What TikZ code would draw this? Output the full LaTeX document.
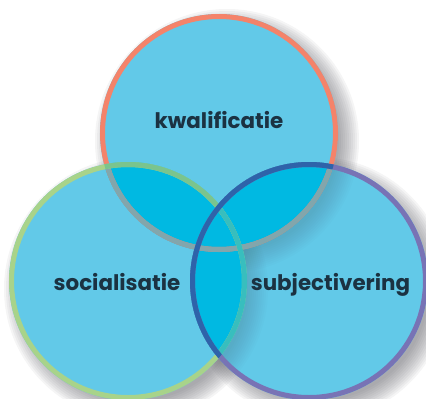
\documentclass[tikz,border=0pt]{standalone}
\usepackage{fontspec}
\setmainfont{Poppins}
\usetikzlibrary{positioning}

\definecolor{vulblauw}{HTML}{62C9E8}
\definecolor{overlapblauw}{HTML}{00B9E2}
\definecolor{oranje}{HTML}{F4836A}
\definecolor{groen}{HTML}{A8D38A}
\definecolor{paars}{HTML}{7873B5}
\definecolor{grijsring}{HTML}{82A6AC}
\definecolor{groenring}{HTML}{7AC48E}
\definecolor{tealring}{HTML}{38BEBE}
\definecolor{blauwring}{HTML}{2E63AA}
\definecolor{tekst}{HTML}{1B3242}
\definecolor{schaduw}{HTML}{505058}

\tikzset{
  ring/.style={line width=5pt},
  woord/.style={text=tekst,font=\bfseries\fontsize{21.4}{25}\selectfont,anchor=base,inner sep=0pt}
}

\begin{document}
\begin{tikzpicture}[x=1pt,y=-1pt]
            \useasboundingbox (0,0) rectangle (426,399);
            \coordinate (K) at (219,133);
            \coordinate (S) at (128,281);
            \coordinate (J) at (309,281);

            \foreach \c in {K,S,J}
              \foreach \k in {0,...,10}
                \fill[schaduw,opacity=0.06] ([shift={(8,8)}]\c) circle[radius=112pt+2*\k pt];

            \fill[vulblauw] (K) circle[radius=119pt] (S) circle[radius=119pt] (J) circle[radius=119pt];

            \begin{scope}
              \clip (J) circle[radius=119pt];
              \foreach \c in {K,S}
                \foreach \k in {0,...,10}
                  \fill[schaduw,opacity=0.018] ([shift={(8,8)}]\c) circle[radius=112pt+2*\k pt];
            \end{scope}

            \begin{scope}
              \clip (K) circle[radius=119pt];
              \fill[overlapblauw] (S) circle[radius=119pt] (J) circle[radius=119pt];
            \end{scope}
            \begin{scope}
              \clip (S) circle[radius=119pt];
              \fill[overlapblauw] (J) circle[radius=119pt];
            \end{scope}

            \draw[ring,oranje] (K) circle[radius=116.5pt];
            \begin{scope}
              \clip (S) circle[radius=119pt] (J) circle[radius=119pt];
              \draw[ring,grijsring] (K) circle[radius=116.5pt];
            \end{scope}

            \draw[ring,groen] (S) circle[radius=116.5pt];
            \begin{scope}
              \clip (K) circle[radius=119pt];
              \draw[ring,groenring] (S) circle[radius=116.5pt];
            \end{scope}
            \begin{scope}
              \clip (J) circle[radius=119pt];
              \draw[ring,tealring] (S) circle[radius=116.5pt];
            \end{scope}

            \draw[ring,paars] (J) circle[radius=116.5pt];
            \begin{scope}
              \clip (K) circle[radius=119pt] (S) circle[radius=119pt];
              \draw[ring,blauwring] (J) circle[radius=116.5pt];
            \end{scope}

            \node[woord] (kwalificatie) at (219,128) {kwalificatie};
            \node[woord] (socialisatie) at (117,290) {socialisatie};
            \node[woord] (subjectivering) at (330.5,290) {subjectivering};
        \end{tikzpicture}
\end{document}
